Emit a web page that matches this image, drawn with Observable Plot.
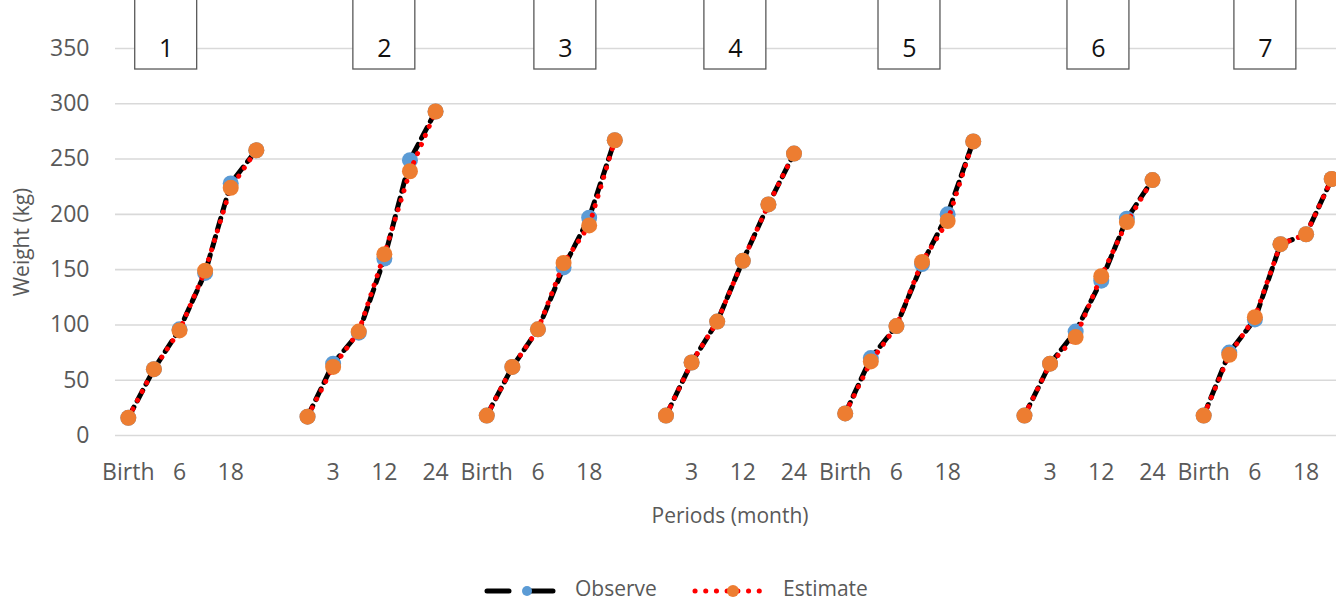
<!DOCTYPE html>
<html>
<head>
<meta charset="utf-8">
<script src="https://cdn.jsdelivr.net/npm/d3@7"></script>
<script src="https://cdn.jsdelivr.net/npm/@observablehq/plot@0.6"></script>
<style>
  html, body { margin: 0; padding: 0; background: #fff; overflow: hidden; width: 1336px; height: 601px; }
  #wrap { position: relative; width: 1336px; height: 601px; overflow: hidden; font-family: "Open Sans", sans-serif; }
  #chart { width: 1344px; }
  #chart svg { display: block; max-width: none !important; }
  #legend { position: absolute; left: 0; top: 565px; }
</style>
</head>
<body>
<div id="wrap">
  <div id="chart"></div>
  <svg id="legend" width="1336" height="36"></svg>
</div>
<script>
// ---- data ----
const groups = ["1", "2", "3", "4", "5", "6", "7"];
const periods = ["Birth", "3", "6", "12", "18", "24"];
const observe = [
  [16, 60, 96, 147, 228, 258],
  [17, 65, 93, 160, 249, 293],
  [18, 62, 96, 152, 197, 267],
  [18, 66, 103, 158, 209, 255],
  [20, 70, 99, 155, 200, 266],
  [18, 65, 94, 140, 196, 231],
  [18, 75, 105, 173, 182, 232]
];
const estimate = [
  [16, 60, 95, 149, 224, 258],
  [17, 62, 94, 164, 239, 293],
  [18, 62, 96, 156, 190, 267],
  [18, 66, 103, 158, 209, 255],
  [20, 67, 99, 157, 194, 266],
  [18, 65, 89, 144, 193, 231],
  [18, 73, 107, 173, 182, 232]
];
// category slot (in axis category units) where each group's label box sits
const panelAt = [1.48, 10.0, 17.07, 23.71, 30.51, 37.89, 44.41];
const yTicks = [0, 50, 100, 150, 200, 250, 300, 350];

// ---- build table ----
const slots = periods.length + 1; // one empty category between groups
const table = [];
groups.forEach((g, gi) => {
  periods.forEach((p, pi) => {
    table.push({group: g, period: p, idx: gi * slots + pi, obs: observe[gi][pi], est: estimate[gi][pi]});
  });
});
const nCats = groups.length * slots - 1; // 48 category slots on the axis
const tickIdx = d3.range(0, nCats).filter(i => i % 2 === 0 && (i % slots) < periods.length);
const panels = groups.map((g, i) => ({label: g, at: panelAt[i]}));

const gray = "#595959";
const chart = Plot.plot({
  width: 1344,
  height: 540,
  marginLeft: 115,
  marginRight: 0,
  marginTop: 48,
  marginBottom: 105,
  style: {fontFamily: "Open Sans, sans-serif", background: "transparent", overflow: "visible", maxWidth: "none"},
  x: {domain: [-0.5, nCats - 0.5], axis: null},
  y: {domain: [0, 350], axis: null},
  marks: [
    Plot.ruleY(yTicks, {stroke: "#d9d9d9", strokeWidth: 1.6}),
    Plot.axisY({ticks: yTicks, tickSize: 0, tickPadding: 26, fontSize: 23, color: gray, label: null}),
    Plot.axisX({ticks: tickIdx, tickSize: 0, tickPadding: 28, fontSize: 23, color: gray, label: null,
      tickFormat: i => periods[i % slots]}),
    Plot.text(["Weight (kg)"], {frameAnchor: "left", dx: -93, rotate: -90, textAnchor: "middle", lineAnchor: "middle", fontSize: 21, fill: gray}),
    Plot.text(["Periods (month)"], {frameAnchor: "bottom", dy: 81, textAnchor: "middle", lineAnchor: "middle", fontSize: 21, fill: gray}),
    // panel label boxes
    Plot.rect(panels, {x1: d => d.at - 1.21, x2: d => d.at + 1.21, y1: 331, y2: 400, fill: "white", stroke: gray, strokeWidth: 1.3}),
    Plot.text(panels, {x: "at", y: 350, text: "label", fontSize: 25, fill: "#111"}),
    // observed
    Plot.line(table, {x: "idx", y: "obs", z: "group", stroke: "black", strokeWidth: 5, strokeDasharray: "12,7"}),
    Plot.dot(table, {x: "idx", y: "obs", r: 8, fill: "#5B9BD5"}),
    // estimated
    Plot.line(table, {x: "idx", y: "est", z: "group", stroke: "#FF0000", strokeWidth: 5, strokeDasharray: "0.1,9.8", strokeLinecap: "round"}),
    Plot.dot(table, {x: "idx", y: "est", r: 8, fill: "#ED7D31"})
  ]
});
document.getElementById("chart").appendChild(chart);

// ---- legend ----
const lg = d3.select("#legend");
lg.append("line").attr("x1", 487).attr("x2", 560).attr("y1", 26).attr("y2", 26)
  .attr("stroke", "black").attr("stroke-width", 5).attr("stroke-dasharray", "22,22").attr("stroke-linecap", "round");
lg.append("circle").attr("cx", 527).attr("cy", 26).attr("r", 5).attr("fill", "#5B9BD5");
lg.append("text").attr("x", 575).attr("y", 30.5).attr("font-size", 21).attr("fill", gray).attr("font-family", "Open Sans, sans-serif").text("Observe");
lg.append("line").attr("x1", 695).attr("x2", 768).attr("y1", 26).attr("y2", 26)
  .attr("stroke", "#FF0000").attr("stroke-width", 5).attr("stroke-dasharray", "0.1,10.6").attr("stroke-linecap", "round");
lg.append("circle").attr("cx", 733).attr("cy", 26).attr("r", 6).attr("fill", "#ED7D31");
lg.append("text").attr("x", 783).attr("y", 30.5).attr("font-size", 21).attr("fill", gray).attr("font-family", "Open Sans, sans-serif").text("Estimate");
</script>
</body>
</html>
